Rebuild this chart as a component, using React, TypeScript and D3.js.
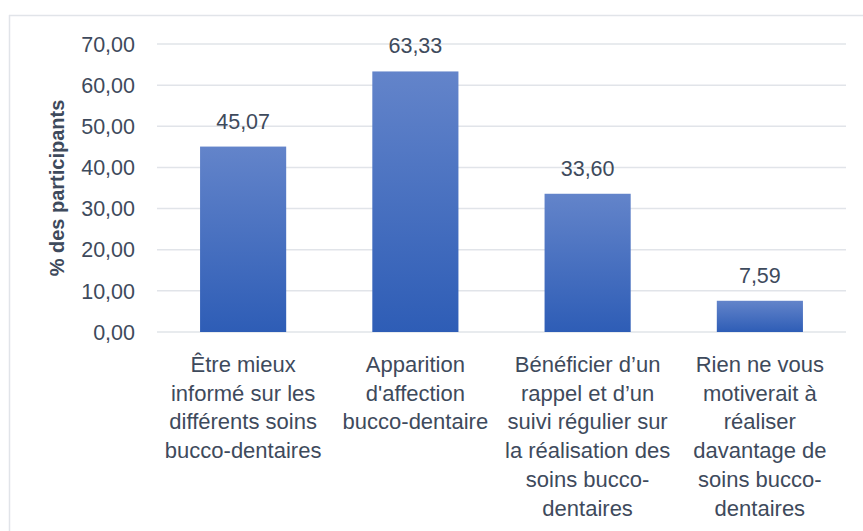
import React from "react";
import * as d3 from "d3";

const categories: string[][] = [
  ["Être mieux", "informé sur les", "différents soins", "bucco-dentaires"],
  ["Apparition", "d'affection", "bucco-dentaire"],
  ["Bénéficier d’un", "rappel et d’un", "suivi régulier sur", "la réalisation des", "soins bucco-", "dentaires"],
  ["Rien ne vous", "motiverait à", "réaliser", "davantage de", "soins bucco-", "dentaires"],
];
const values: number[] = [45.07, 63.33, 33.6, 7.59];
const tickValues: number[] = [0, 10, 20, 30, 40, 50, 60, 70];
const yTitle = "% des participants";

const W = 863;
const H = 531;
const FONT = "'Liberation Sans', Arial, sans-serif";
const TEXT = "#3e4a5c";
const GRID = "#e1e4e9";

const fmt = (v: number) => d3.format(".2f")(v).replace(".", ",");

export default function App() {
  const x = d3
    .scaleBand<number>()
    .domain(values.map((_, i) => i))
    .range([157, 846])
    .paddingInner(0.5)
    .paddingOuter(0.25);
  const y = d3.scaleLinear().domain([0, 70]).range([332, 44]);

  return (
    <svg
      width={W}
      height={H}
      style={{ position: "absolute", left: 0, top: 0, background: "#fff" }}
    >
      <defs>
        <linearGradient id="barGrad" x1="0" y1="0" x2="0" y2="1">
          <stop offset="0%" stopColor="#6384ca" />
          <stop offset="100%" stopColor="#2e5db6" />
        </linearGradient>
      </defs>
      <rect x={0} y={0} width={W} height={H} fill="#fff" />
      <line x1={9.5} x2={9.5} y1={15} y2={H} stroke={GRID} strokeWidth={1.5} />
      <line x1={9} x2={W} y1={15.5} y2={15.5} stroke={GRID} strokeWidth={1.5} />

      {tickValues.map((t) => (
        <line
          key={"g" + t}
          x1={157}
          x2={846}
          y1={y(t)}
          y2={y(t)}
          stroke={GRID}
          strokeWidth={1.5}
        />
      ))}
      {tickValues.map((t) => (
        <text
          key={"t" + t}
          x={135}
          y={y(t)}
          dy="0.36em"
          textAnchor="end"
          fontFamily={FONT}
          fontSize={21.5}
          fill={TEXT}
        >
          {fmt(t)}
        </text>
      ))}

      {values.map((v, i) => (
        <rect
          key={"b" + i}
          x={x(i)!}
          y={y(v)}
          width={x.bandwidth()}
          height={y(0) - y(v)}
          fill="url(#barGrad)"
        />
      ))}
      {values.map((v, i) => (
        <text
          key={"v" + i}
          x={x(i)! + x.bandwidth() / 2}
          y={y(v) - 18}
          textAnchor="middle"
          fontFamily={FONT}
          fontSize={21.5}
          fill={TEXT}
        >
          {fmt(v)}
        </text>
      ))}

      {categories.map((lines, i) => (
        <text
          key={"c" + i}
          x={x(i)! + x.bandwidth() / 2}
          textAnchor="middle"
          fontFamily={FONT}
          fontSize={22}
          fill={TEXT}
        >
          {lines.map((l, j) => (
            <tspan key={j} x={x(i)! + x.bandwidth() / 2} y={y(0) + 40 + j * 28.7}>
              {l}
            </tspan>
          ))}
        </text>
      ))}

      <text
        transform={`translate(64,188) rotate(-90)`}
        textAnchor="middle"
        fontFamily={FONT}
        fontSize={20}
        fontWeight="bold"
        fill={TEXT}
      >
        {yTitle}
      </text>
    </svg>
  );
}
